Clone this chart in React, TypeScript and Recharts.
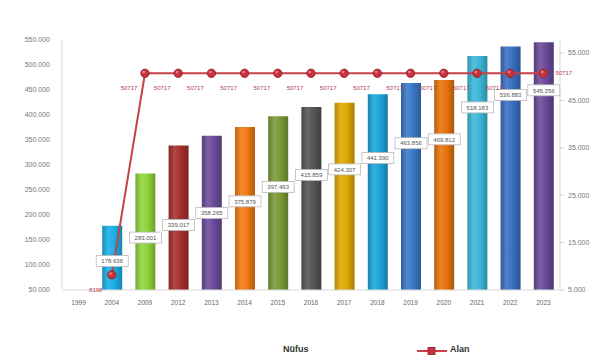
import React from 'react';
import { ComposedChart, Bar, Line, XAxis, YAxis, Cell, LabelList } from 'recharts';

// Yıllar, nüfus ve alan değerleri
const years = ['1999', '2004', '2009', '2012', '2013', '2014', '2015', '2016', '2017', '2018', '2019', '2020', '2021', '2022', '2023'];
const nufus: (number | null)[] = [null, 178636, 283001, 339017, 358265, 375879, 397463, 415859, 424307, 441390, 463856, 469812, 518183, 536883, 545356];
const alan: (number | null)[] = [null, 8198, 50717, 50717, 50717, 50717, 50717, 50717, 50717, 50717, 50717, 50717, 50717, 50717, 50717];

const leftTicks = [50000, 100000, 150000, 200000, 250000, 300000, 350000, 400000, 450000, 500000, 550000];
const rightTicks = [5000, 15000, 25000, 35000, 45000, 55000];

// Her yılın çubuk rengi
const barColors = ['#1ab0e8', '#1ab0e8', '#8fd43c', '#a3302d', '#6a4c9c', '#f07b12', '#7a9a35', '#555555', '#e0a800', '#1aa5dc', '#3a78c8', '#e8730c', '#3bb8d8', '#3a6fc0', '#6b4a9a'];

const data = years.map((year, i) => ({ year, nufus: nufus[i], alan: alan[i] }));

const FONT = '"Liberation Sans", "DejaVu Sans", sans-serif';
const fmt = (v: number) => String(Math.round(v)).replace(/\B(?=(\d{3})+(?!\d))/g, '.');

function shade(hex: string, amt: number) {
  const n = parseInt(hex.slice(1), 16);
  const ch = (s: number) => {
    const c = (n >> s) & 255;
    const t = amt >= 0 ? c + (255 - c) * amt : c * (1 + amt);
    return Math.max(0, Math.min(255, Math.round(t)));
  };
  return `rgb(${ch(16)},${ch(8)},${ch(0)})`;
}

// Etiket kutusu: kısa çubuklarda ortada, uzun çubuklarda tepeye daha yakın
const NufusLabel = (props: any) => {
  const { x, y, width, height, value } = props;
  if (value == null) return null;
  const cx = x + width / 2;
  const drop = height < 145 ? height * 0.55 : Math.max(48, 80 - (height - 145) * 0.32);
  const cy = y + drop;
  const w = 32;
  const h = 11;
  return (
    <g>
      <rect x={cx - w / 2} y={cy - h / 2} width={w} height={h} fill="#ffffff" stroke="#b8b8b8" strokeWidth={0.8} />
      <text x={cx} y={cy + 2.2} textAnchor="middle" fontSize={6} fill="#555" fontFamily={FONT}>{fmt(value)}</text>
    </g>
  );
};

const AlanLabel = (props: any) => {
  const { x, y, value, index } = props;
  if (value == null) return null;
  const last = index === years.length - 1;
  return (
    <text
      x={last ? x + 12 : x - 16}
      y={last ? y + 2 : y + 17}
      textAnchor={last ? 'start' : 'middle'}
      fontSize={6}
      fill="#b04050"
      fontFamily={FONT}
    >
      {String(value)}
    </text>
  );
};

const AlanDot = (props: any) => {
  const { cx, cy, value } = props;
  if (value == null || cx == null || cy == null) return null;
  return (
    <g>
      <circle cx={cx} cy={cy} r={4.2} fill="#c8323c" stroke="#8e1e26" strokeWidth={0.8} />
      <circle cx={cx - 1.2} cy={cy - 1.2} r={1.4} fill="#e87a80" />
    </g>
  );
};

export default function App() {
  return (
    <div style={{ position: 'absolute', left: 0, top: 0, width: 600, height: 364, background: '#fff' }}>
      <ComposedChart
        width={600}
        height={364}
        data={data}
        margin={{ top: 40, right: 0, bottom: 54, left: 0 }}
        barCategoryGap={0}
      >
        <defs>
          {barColors.map((c, i) => (
            <linearGradient key={i} id={`bar${i}`} x1="0" y1="0" x2="1" y2="0">
              <stop offset="0%" stopColor={shade(c, -0.2)} />
              <stop offset="30%" stopColor={shade(c, 0.12)} />
              <stop offset="60%" stopColor={c} />
              <stop offset="100%" stopColor={shade(c, -0.25)} />
            </linearGradient>
          ))}
        </defs>
        <XAxis
          dataKey="year"
          height={20}
          tickLine={false}
          axisLine={{ stroke: '#d9d9d9' }}
          tick={{ fontSize: 6.5, fill: '#666', fontFamily: FONT }}
          tickMargin={4}
          interval={0}
        />
        <YAxis
          yAxisId="left"
          width={62}
          domain={[50000, 550000]}
          ticks={leftTicks}
          allowDataOverflow
          tickFormatter={fmt}
          tickLine={false}
          axisLine={{ stroke: '#d9d9d9' }}
          tick={{ fontSize: 7, fill: '#777', fontFamily: FONT }}
          tickMargin={6}
        />
        <YAxis
          yAxisId="right"
          orientation="right"
          width={40}
          domain={[5000, 57743]}
          ticks={rightTicks}
          allowDataOverflow
          tickFormatter={fmt}
          tickSize={4}
          tickLine={{ stroke: '#cfcfcf' }}
          axisLine={{ stroke: '#d9d9d9' }}
          tick={{ fontSize: 7, fill: '#777', fontFamily: FONT }}
          tickMargin={4}
        />
        <Bar yAxisId="left" dataKey="nufus" barSize={20} isAnimationActive={false}>
          {data.map((_, i) => (
            <Cell key={i} fill={`url(#bar${i})`} />
          ))}
          <LabelList dataKey="nufus" content={NufusLabel} />
        </Bar>
        <Line
          yAxisId="right"
          type="linear"
          dataKey="alan"
          stroke="#c8404a"
          strokeWidth={2}
          dot={AlanDot}
          activeDot={false}
          isAnimationActive={false}
        >
          <LabelList dataKey="alan" content={AlanLabel} />
        </Line>
      </ComposedChart>
      <div
        style={{
          position: 'absolute',
          top: 344,
          left: 0,
          width: 600,
          height: 14,
          fontFamily: FONT,
          fontSize: 9,
          color: '#333',
        }}
      >
        <span style={{ position: 'absolute', left: 283, top: 0, fontWeight: 'bold' }}>Nüfus</span>
        <svg style={{ position: 'absolute', left: 417, top: 2 }} width={30} height={10}>
          <line x1={0} y1={5} x2={30} y2={5} stroke="#c8404a" strokeWidth={2} />
          <rect x={11} y={1.5} width={7} height={7} fill="#c8323c" stroke="#8e1e26" strokeWidth={0.8} />
        </svg>
        <span style={{ position: 'absolute', left: 450, top: 0, fontWeight: 'bold' }}>Alan</span>
      </div>
    </div>
  );
}
